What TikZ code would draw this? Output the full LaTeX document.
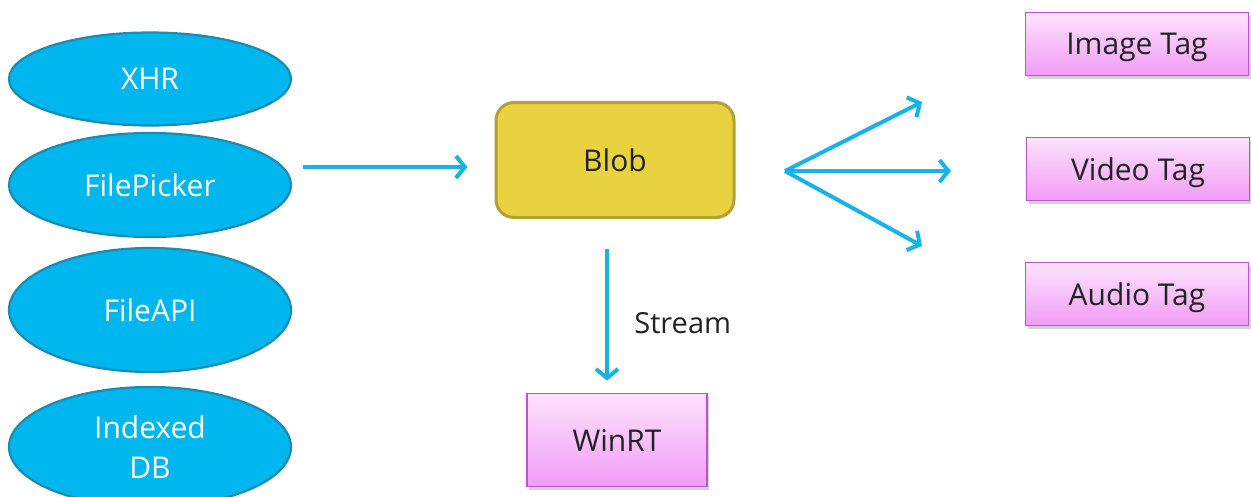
\documentclass[tikz,border=0pt]{standalone}
\usepackage{fontspec}
\setmainfont{Open Sans}
\usetikzlibrary{shapes.geometric,arrows.meta,shadows}
\definecolor{srcfill}{HTML}{00B6EE}
\definecolor{srcline}{HTML}{1B8CAE}
\definecolor{blobfill}{HTML}{E9D23F}
\definecolor{blobline}{HTML}{B5A035}
\definecolor{tagtop}{HTML}{FCE3FC}
\definecolor{tagbot}{HTML}{F29CF6}
\definecolor{tagline}{HTML}{C052D2}
\definecolor{flow}{HTML}{19B2E8}
\definecolor{ink}{HTML}{222222}
\tikzset{
  labelfont/.style={font=\fontsize{30pt}{40pt}\selectfont},
  src/.style={ellipse, draw=srcline, line width=2.2pt, fill=srcfill,
    minimum width=282pt, inner sep=0pt, text=white, align=center, labelfont},
  blobbox/.style={rounded corners=18pt, draw=blobline, line width=3pt, fill=blobfill,
    minimum width=238pt, minimum height=115pt, text=ink, labelfont},
  tagbox/.style={draw=tagline, line width=1.8pt, top color=tagtop, bottom color=tagbot,
    inner sep=0pt, text=ink, labelfont, text depth=0pt,
    drop shadow={opacity=0.35, shadow xshift=2pt, shadow yshift=-3pt, fill=gray}},
  flowarrow/.style={draw=flow, line width=4pt,
    -{Straight Barb[length=9pt, width=22pt, line width=4pt]}}
}
\begin{document}
\begin{tikzpicture}[x=1pt, y=-1pt]
\useasboundingbox (0,0) rectangle (1251,496);

% data sources
\node[src, minimum height=93pt]  (xhr) at (150,79)  {XHR};
\node[src, minimum height=104pt] (fp)  at (150,185) {FilePicker};
\node[src, minimum height=124pt] (fa)  at (150,310) {FileAPI};
\node[src, minimum height=120pt] (idb) at (150,447) {Indexed\\DB};

% central blob
\node[blobbox] (blob) at (615,160) {Blob};

% consumers
\node[tagbox, minimum width=180pt, minimum height=93pt] (winrt) at (617,440) {WinRT};
\node[tagbox, minimum width=223pt, minimum height=63pt] (img) at (1137,44)  {Image Tag};
\node[tagbox, minimum width=223pt, minimum height=63pt] (vid) at (1138,169) {Video Tag};
\node[tagbox, minimum width=223pt, minimum height=63pt] (aud) at (1137,294) {Audio Tag};

% fan-out points
\coordinate (fan) at (785,171);
\coordinate (fanimg) at (922,102);
\coordinate (fanvid) at (951,171);
\coordinate (fanaud) at (922,246);

% connectors
\draw[flowarrow, shorten <=11pt, shorten >=27pt] (fp.east |- 0,167) -- (blob.west |- 0,167);
\draw[flowarrow, shorten <=30pt, shorten >=12pt] (blob.south -| 607,0) -- (winrt.north -| 607,0)
  node[pos=0.6, right=22pt, text=ink, font=\fontsize{29pt}{36pt}\selectfont] {Stream};
\draw[flowarrow] (fan) -- (fanimg);
\draw[flowarrow] (fan) -- (fanvid);
\draw[flowarrow] (fan) -- (fanaud);
\end{tikzpicture}
\end{document}
